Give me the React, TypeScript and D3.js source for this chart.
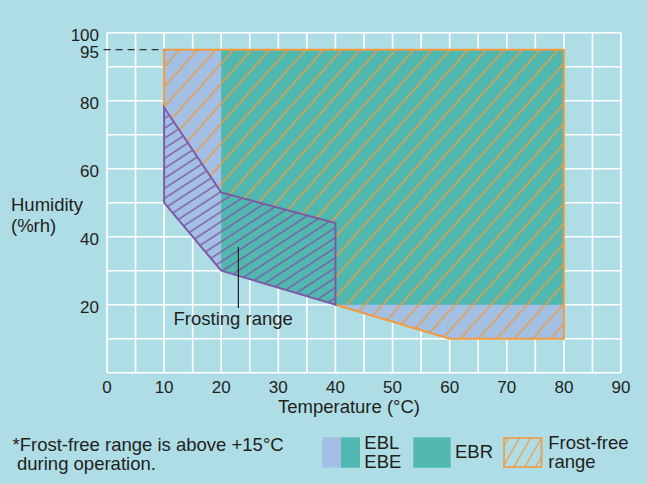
import React from "react";
import * as d3 from "d3";

const xTicks = [0, 10, 20, 30, 40, 50, 60, 70, 80, 90];
const yTicks = [20, 40, 60, 80, 95, 100];
const xGrid = d3.range(0, 91, 5);
const yGrid = d3.range(0, 101, 10);

// EBL / EBE operating range (temperature °C, humidity %rh)
const eblRegion: [number, number][] = [[10, 95], [80, 95], [80, 10], [60, 10], [40, 20], [20, 30], [10, 50]];
// EBR operating range
const ebrRegion: [number, number][] = [[20, 95], [80, 95], [80, 20], [40, 20], [20, 30]];
// Frosting range
const frostingRange: [number, number][] = [[10, 78], [20, 53], [40, 44], [40, 20], [20, 30], [10, 50]];
// Frost-free range (hatched)
const frostFreeRange: [number, number][] = [[10, 95], [80, 95], [80, 10], [60, 10], [40, 20], [40, 44], [20, 53], [10, 78]];
const frostFreeOutline: [number, number][] = [[10, 78], [10, 95], [80, 95], [80, 10], [60, 10], [40, 20]];

const W = 647;
const H = 484;
const BG = "#aedde6";
const LAV = "#a3bfe3";
const TEAL = "#50b8ae";
const ORANGE = "#f19a3e";
const PURPLE = "#7d5aa6";
const TXT = "#231f20";
const FONT = "'Liberation Sans', Arial, Helvetica, sans-serif";
const FS = 18.5;

export default function App() {
  const x = d3.scaleLinear().domain([0, 90]).range([107, 621]);
  const y = d3.scaleLinear().domain([0, 100]).range([372.7, 32.7]);
  const line = d3.line<[number, number]>().x((d) => x(d[0])).y((d) => y(d[1]));
  const closed = (pts: [number, number][]) => line(pts) + "Z";

  return (
    <svg
      width={W}
      height={H}
      viewBox={`0 0 ${W} ${H}`}
      style={{ position: "absolute", left: 0, top: 0, display: "block" }}
      fontFamily={FONT}
    >
      <defs>
        <pattern id="hatchOrange" patternUnits="userSpaceOnUse" width={20} height={13.4} patternTransform="rotate(-48)">
          <line x1={0} y1={6} x2={20} y2={6} stroke={ORANGE} strokeWidth={1.4} />
        </pattern>
        <pattern id="hatchPurple" patternUnits="userSpaceOnUse" width={20} height={8.4} patternTransform="rotate(-33)">
          <line x1={0} y1={4} x2={20} y2={4} stroke={PURPLE} strokeWidth={1.4} />
        </pattern>
        <pattern id="hatchLegend" patternUnits="userSpaceOnUse" width={20} height={9.5} patternTransform="rotate(-60)">
          <line x1={0} y1={4} x2={20} y2={4} stroke={ORANGE} strokeWidth={1.2} />
        </pattern>
      </defs>
      <rect x={0} y={0} width={W} height={H} fill={BG} />

      {/* grid */}
      <g stroke="#ffffff" strokeWidth={1.6}>
        {xGrid.map((v) => (
          <line key={"gx" + v} x1={x(v)} x2={x(v)} y1={y(0)} y2={y(100)} />
        ))}
        {yGrid.map((v) => (
          <line key={"gy" + v} x1={x(0)} x2={x(90)} y1={y(v)} y2={y(v)} />
        ))}
      </g>

      {/* regions */}
      <path d={closed(eblRegion)} fill={LAV} />
      <path d={closed(ebrRegion)} fill={TEAL} />
      <path d={closed(frostFreeRange)} fill="url(#hatchOrange)" />
      <path d={closed(frostingRange)} fill="url(#hatchPurple)" />
      <path d={line(frostFreeOutline) || ""} fill="none" stroke={ORANGE} strokeWidth={2} strokeLinejoin="miter" />
      <path d={closed(frostingRange)} fill="none" stroke={PURPLE} strokeWidth={2} strokeLinejoin="miter" />

      {/* 95% dashed reference */}
      <line x1={x(-0.6)} x2={x(10)} y1={y(95)} y2={y(95)} stroke="#333" strokeWidth={1.2} strokeDasharray="7 5" />

      {/* Frosting range annotation */}
      <line x1={x(23)} x2={x(23)} y1={y(37)} y2={y(19)} stroke={TXT} strokeWidth={1.2} />
      <text x={x(22.1)} y={y(14)} textAnchor="middle" fontSize={FS} fill={TXT}>Frosting range</text>

      {/* axes labels */}
      {xTicks.map((v) => (
        <text key={"xt" + v} x={x(v)} y={393} textAnchor="middle" fontSize={17} fill={TXT}>{v}</text>
      ))}
      {yTicks.map((v) => (
        <text key={"yt" + v} x={99} y={y(v) + (v === 100 ? 8.2 : 8.7)} textAnchor="end" fontSize={17} fill={TXT}>{v}</text>
      ))}
      <text x={349} y={413} textAnchor="middle" fontSize={FS} fill={TXT}>Temperature (°C)</text>
      <text x={11} y={210.7} fontSize={FS} fill={TXT}>Humidity</text>
      <text x={11} y={231.7} fontSize={FS} fill={TXT}>(%rh)</text>

      {/* footnote */}
      <text x={12.5} y={451} fontSize={FS} fill={TXT}>*Frost-free range is above +15°C</text>
      <text x={17} y={470} fontSize={FS} fill={TXT}>during operation.</text>

      {/* legend */}
      <rect x={322.3} y={437.3} width={18.7} height={30.4} fill={LAV} />
      <rect x={341} y={437.3} width={19} height={30.4} fill={TEAL} />
      <text x={364.3} y={449.3} fontSize={FS} fill={TXT}>EBL</text>
      <text x={364.3} y={467.7} fontSize={FS} fill={TXT}>EBE</text>
      <rect x={413.3} y={437.3} width={37.4} height={30.4} fill={TEAL} />
      <text x={455} y={458.3} fontSize={FS} fill={TXT}>EBR</text>
      <rect x={504} y={438} width={37.5} height={29} fill="url(#hatchLegend)" stroke={ORANGE} strokeWidth={1.6} />
      <text x={548.3} y={449.3} fontSize={FS} fill={TXT}>Frost-free</text>
      <text x={548.3} y={467.7} fontSize={FS} fill={TXT}>range</text>
    </svg>
  );
}
